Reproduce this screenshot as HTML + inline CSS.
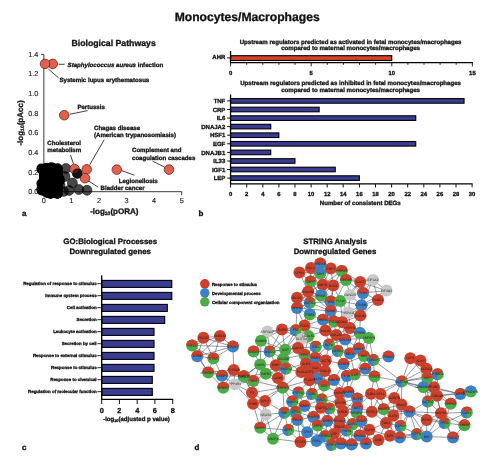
<!DOCTYPE html>
<html><head><meta charset="utf-8"><title>Monocytes/Macrophages</title>
<style>
html,body{margin:0;padding:0;background:#fff;}
svg{display:block;font-family:"Liberation Sans",Arial,sans-serif;fill:#111;text-rendering:geometricPrecision;}
text{stroke:#111;stroke-width:0.3px;paint-order:stroke;}
text[font-weight=normal]{stroke:#1a1a1a;stroke-width:0.12px;fill:#1a1a1a}
.nl text{stroke:none;fill:#141414;fill-opacity:0.9}
</style></head><body>
<svg width="496" height="466" viewBox="0 0 496 466">
<rect width="496" height="466" fill="#fff"/>
<text x="247.2" y="21.3" font-size="12.15" text-anchor="middle" font-weight="bold" font-style="normal" >Monocytes/Macrophages</text>
<text x="113.6" y="45.8" font-size="8.72" text-anchor="middle" font-weight="bold" font-style="normal" >Biological Pathways</text>
<path d="M41.050000000000004 54.4H43.85V191.7H181.7v3.4" fill="none" stroke="#3a3a3a" stroke-width="1"/>
<text x="38.4" y="194.1" font-size="7.3" text-anchor="end" font-weight="normal" font-style="normal" >0.0</text>
<text x="38.4" y="174.5" font-size="7.3" text-anchor="end" font-weight="normal" font-style="normal" >0.2</text>
<text x="38.4" y="154.9" font-size="7.3" text-anchor="end" font-weight="normal" font-style="normal" >0.4</text>
<text x="38.4" y="135.2" font-size="7.3" text-anchor="end" font-weight="normal" font-style="normal" >0.6</text>
<text x="38.4" y="115.6" font-size="7.3" text-anchor="end" font-weight="normal" font-style="normal" >0.8</text>
<text x="38.4" y="96.0" font-size="7.3" text-anchor="end" font-weight="normal" font-style="normal" >1.0</text>
<text x="38.4" y="76.4" font-size="7.3" text-anchor="end" font-weight="normal" font-style="normal" >1.2</text>
<text x="38.4" y="56.8" font-size="7.3" text-anchor="end" font-weight="normal" font-style="normal" >1.4</text>
<text x="43.9" y="202.8" font-size="7.3" text-anchor="middle" font-weight="normal" font-style="normal" >0</text>
<text x="71.4" y="202.8" font-size="7.3" text-anchor="middle" font-weight="normal" font-style="normal" >1</text>
<text x="99.0" y="202.8" font-size="7.3" text-anchor="middle" font-weight="normal" font-style="normal" >2</text>
<text x="126.6" y="202.8" font-size="7.3" text-anchor="middle" font-weight="normal" font-style="normal" >3</text>
<text x="154.1" y="202.8" font-size="7.3" text-anchor="middle" font-weight="normal" font-style="normal" >4</text>
<text x="181.7" y="202.8" font-size="7.3" text-anchor="middle" font-weight="normal" font-style="normal" >5</text>
<text x="114.3" y="213.6" font-size="8" text-anchor="middle" font-weight="bold">-log<tspan font-size="5" dy="1.5">10</tspan><tspan dy="-1.5">(pORA)</tspan></text>
<text transform="translate(22.5,123) rotate(-90)" font-size="8" text-anchor="middle" font-weight="bold">-log<tspan font-size="5" dy="1.5">10</tspan><tspan dy="-1.5">(pAcc)</tspan></text>
<g fill="#000">
<rect x="39" y="165" width="24" height="31" rx="5"/>
<circle cx="45.5" cy="181.7" r="5"/>
<circle cx="48.0" cy="183.3" r="5"/>
<circle cx="52.9" cy="168.8" r="5"/>
<circle cx="41.3" cy="189.6" r="5"/>
<circle cx="45.9" cy="173.3" r="5"/>
<circle cx="59.9" cy="179.7" r="5"/>
<circle cx="56.9" cy="179.9" r="5"/>
<circle cx="53.1" cy="171.1" r="5"/>
<circle cx="53.1" cy="190.4" r="5"/>
<circle cx="50.9" cy="187.0" r="5"/>
<circle cx="53.8" cy="168.7" r="5"/>
<circle cx="55.4" cy="183.0" r="5"/>
<circle cx="46.7" cy="167.8" r="5"/>
<circle cx="57.4" cy="179.8" r="5"/>
<circle cx="54.7" cy="190.7" r="5"/>
<circle cx="54.6" cy="191.9" r="5"/>
<circle cx="48.5" cy="188.6" r="5"/>
<circle cx="49.4" cy="192.3" r="5"/>
<circle cx="57.7" cy="169.6" r="5"/>
<circle cx="43.6" cy="172.9" r="5"/>
<circle cx="59.3" cy="178.8" r="5"/>
<circle cx="52.9" cy="175.1" r="5"/>
<circle cx="50.6" cy="177.4" r="5"/>
<circle cx="47.7" cy="182.8" r="5"/>
<circle cx="52.1" cy="191.4" r="5"/>
<circle cx="54.0" cy="192.1" r="5"/>
<circle cx="57.3" cy="193.8" r="5"/>
<circle cx="53.8" cy="171.4" r="5"/>
<circle cx="57.4" cy="193.0" r="5"/>
<circle cx="58.2" cy="182.4" r="5"/>
<circle cx="54.6" cy="172.7" r="5"/>
<circle cx="56.8" cy="182.5" r="5"/>
<circle cx="46.4" cy="168.7" r="5"/>
<circle cx="57.2" cy="193.7" r="5"/>
<circle cx="42.7" cy="188.6" r="5"/>
<circle cx="48.8" cy="171.1" r="5"/>
<circle cx="46.6" cy="187.8" r="5"/>
<circle cx="57.6" cy="168.2" r="5"/>
<circle cx="52.7" cy="168.2" r="5"/>
<circle cx="54.7" cy="175.9" r="5"/>
<circle cx="57.7" cy="193.5" r="5"/>
<circle cx="50.6" cy="194.0" r="5"/>
<circle cx="46.9" cy="169.1" r="5"/>
<circle cx="52.4" cy="167.8" r="5"/>
<circle cx="44.8" cy="178.0" r="5"/>
<circle cx="52.6" cy="171.2" r="5"/>
<circle cx="41.8" cy="190.4" r="5"/>
<circle cx="47.0" cy="192.9" r="5"/>
<circle cx="58.0" cy="177.2" r="5"/>
<circle cx="49.7" cy="181.0" r="5"/>
<circle cx="53.2" cy="183.1" r="5"/>
<circle cx="51.6" cy="183.7" r="5"/>
<circle cx="58.9" cy="180.7" r="5"/>
<circle cx="49.2" cy="186.4" r="5"/>
<circle cx="45.5" cy="175.1" r="5"/>
<circle cx="59.6" cy="181.1" r="5"/>
<circle cx="51.4" cy="167.3" r="5"/>
<circle cx="48.9" cy="182.7" r="5"/>
<circle cx="41.4" cy="183.6" r="5"/>
<circle cx="53.0" cy="168.6" r="5"/>
<circle cx="52.9" cy="179.6" r="5"/>
<circle cx="53.9" cy="176.5" r="5"/>
<circle cx="54.4" cy="186.9" r="5"/>
<circle cx="41.4" cy="168.6" r="5"/>
<circle cx="53.8" cy="193.0" r="5"/>
<circle cx="45.8" cy="179.3" r="5"/>
<circle cx="52.3" cy="175.6" r="5"/>
<circle cx="47.9" cy="175.4" r="5"/>
<circle cx="48.0" cy="183.1" r="5"/>
<circle cx="46.7" cy="177.2" r="5"/>
</g>
<g fill="#000" fill-opacity="0.72" stroke="#000" stroke-width="0.5">
<circle cx="66" cy="168.5" r="5"/>
<circle cx="65" cy="176.5" r="5"/>
<circle cx="63.5" cy="191.5" r="5"/>
<circle cx="77.3" cy="173.4" r="5"/>
<circle cx="72.4" cy="183" r="5"/>
<circle cx="78.9" cy="189.5" r="5"/>
<circle cx="87" cy="190.3" r="5"/>
<circle cx="69" cy="190.5" r="5"/>
<circle cx="60" cy="185" r="5"/>
</g>
<g fill="#e0624e" stroke="#5e140d" stroke-width="0.7">
<circle cx="52.7" cy="63.9" r="4.8"/>
<circle cx="45" cy="63.9" r="4.8"/>
<circle cx="64.2" cy="115.2" r="4.8"/>
<circle cx="74.5" cy="169" r="4.8"/>
<circle cx="86.7" cy="169.4" r="4.8"/>
<circle cx="85" cy="178.2" r="4.8"/>
<circle cx="116.8" cy="169.6" r="4.8"/>
<circle cx="169" cy="169.6" r="4.8"/>
</g>
<circle cx="77.3" cy="173.4" r="5" fill="#000" fill-opacity="0.72"/>
<g stroke="#111" stroke-width="0.8" fill="none">
<path d="M58.7 64.3L64.6 64.3"/>
<path d="M48.3 69L58.5 77.8"/>
<path d="M69.8 114.3L87.6 110.6"/>
<path d="M104.3 139.6L89.7 164.8"/>
<path d="M70.5 155L73.5 164"/>
<path d="M121.6 170.6L134.5 175.2"/>
<path d="M152.6 161.2L164.7 167.2"/>
<path d="M88.6 181L98.2 187.2"/>
</g>
<text x="67.6" y="66.5" font-size="6.1" font-weight="bold"><tspan font-style="italic">Staphylococcus aureus</tspan> infection</text>
<text x="59.5" y="82.0" font-size="6.1" text-anchor="start" font-weight="bold" font-style="normal" >Systemic lupus erythematosus</text>
<text x="77.4" y="108.8" font-size="6.1" text-anchor="start" font-weight="bold" font-style="normal" >Pertussis</text>
<text x="94.0" y="129.8" font-size="6.1" text-anchor="start" font-weight="bold" font-style="normal" >Chagas disease</text>
<text x="94.0" y="137.0" font-size="6.1" text-anchor="start" font-weight="bold" font-style="normal" >(American trypanosomiasis)</text>
<text x="47.3" y="145.0" font-size="6.1" text-anchor="start" font-weight="bold" font-style="normal" >Cholesterol</text>
<text x="47.3" y="151.9" font-size="6.1" text-anchor="start" font-weight="bold" font-style="normal" >metabolism</text>
<text x="132.0" y="152.3" font-size="6.1" text-anchor="start" font-weight="bold" font-style="normal" >Complement and</text>
<text x="132.0" y="159.5" font-size="6.1" text-anchor="start" font-weight="bold" font-style="normal" >coagulation cascades</text>
<text x="118.7" y="182.5" font-size="6.1" text-anchor="start" font-weight="bold" font-style="normal" >Legionellosis</text>
<text x="100.6" y="189.8" font-size="6.1" text-anchor="start" font-weight="bold" font-style="normal" >Bladder cancer</text>
<text x="21.9" y="215.9" font-size="8.0" text-anchor="start" font-weight="bold" font-style="normal" >a</text>
<text x="350.6" y="43.5" font-size="6.1" text-anchor="middle" font-weight="bold" font-style="normal" >Upstream regulators predicted as activated in fetal monocytes/macrophages</text>
<text x="350.6" y="50.4" font-size="6.1" text-anchor="middle" font-weight="bold" font-style="normal" >compared to maternal monocytes/macrophages</text>
<rect x="230.55" y="55.7" width="161.2" height="4.8" fill="#d4442b" stroke="#000" stroke-width="1.1"/>
<path d="M230.55 51V62.7H472.9" fill="none" stroke="#000" stroke-width="1.3"/>
<path d="M227.15 57.9H230.55" stroke="#111" stroke-width="1"/>
<path d="M230.6 62.7v3.7" stroke="#111" stroke-width="0.9"/>
<path d="M246.7 62.7v2.1" stroke="#111" stroke-width="0.9"/>
<path d="M262.8 62.7v2.1" stroke="#111" stroke-width="0.9"/>
<path d="M278.9 62.7v2.1" stroke="#111" stroke-width="0.9"/>
<path d="M295.0 62.7v2.1" stroke="#111" stroke-width="0.9"/>
<path d="M311.2 62.7v3.7" stroke="#111" stroke-width="0.9"/>
<path d="M327.3 62.7v2.1" stroke="#111" stroke-width="0.9"/>
<path d="M343.4 62.7v2.1" stroke="#111" stroke-width="0.9"/>
<path d="M359.5 62.7v2.1" stroke="#111" stroke-width="0.9"/>
<path d="M375.6 62.7v2.1" stroke="#111" stroke-width="0.9"/>
<path d="M391.8 62.7v3.7" stroke="#111" stroke-width="0.9"/>
<path d="M407.9 62.7v2.1" stroke="#111" stroke-width="0.9"/>
<path d="M424.0 62.7v2.1" stroke="#111" stroke-width="0.9"/>
<path d="M440.1 62.7v2.1" stroke="#111" stroke-width="0.9"/>
<path d="M456.2 62.7v2.1" stroke="#111" stroke-width="0.9"/>
<path d="M472.4 62.7v3.7" stroke="#111" stroke-width="0.9"/>
<text x="230.6" y="74.7" font-size="5.9" text-anchor="middle" font-weight="bold" font-style="normal" >0</text>
<text x="311.2" y="74.7" font-size="5.9" text-anchor="middle" font-weight="bold" font-style="normal" >5</text>
<text x="391.8" y="74.7" font-size="5.9" text-anchor="middle" font-weight="bold" font-style="normal" >10</text>
<text x="472.4" y="74.7" font-size="5.9" text-anchor="middle" font-weight="bold" font-style="normal" >15</text>
<text x="225.3" y="59.2" font-size="6" text-anchor="end" font-weight="bold" font-style="normal" >AHR</text>
<text x="350.6" y="85.0" font-size="6.1" text-anchor="middle" font-weight="bold" font-style="normal" >Upstream regulators predicted as inhibited in fetal monocytes/macrophages</text>
<text x="350.6" y="92.0" font-size="6.1" text-anchor="middle" font-weight="bold" font-style="normal" >compared to maternal monocytes/macrophages</text>
<rect x="230.55" y="98.6" width="233.5" height="4.6" fill="#3a3c92" stroke="#000" stroke-width="1.1"/>
<path d="M227.15 100.9H230.55" stroke="#111" stroke-width="1"/>
<text x="225.3" y="103.0" font-size="6" text-anchor="end" font-weight="bold" font-style="normal" >TNF</text>
<rect x="230.55" y="107.2" width="88.6" height="4.6" fill="#3a3c92" stroke="#000" stroke-width="1.1"/>
<path d="M227.15 109.5H230.55" stroke="#111" stroke-width="1"/>
<text x="225.3" y="111.6" font-size="6" text-anchor="end" font-weight="bold" font-style="normal" >CRP</text>
<rect x="230.55" y="115.8" width="185.2" height="4.6" fill="#3a3c92" stroke="#000" stroke-width="1.1"/>
<path d="M227.15 118.1H230.55" stroke="#111" stroke-width="1"/>
<text x="225.3" y="120.2" font-size="6" text-anchor="end" font-weight="bold" font-style="normal" >IL6</text>
<rect x="230.55" y="124.3" width="40.2" height="4.6" fill="#3a3c92" stroke="#000" stroke-width="1.1"/>
<path d="M227.15 126.6H230.55" stroke="#111" stroke-width="1"/>
<text x="225.3" y="128.7" font-size="6" text-anchor="end" font-weight="bold" font-style="normal" >DNAJA2</text>
<rect x="230.55" y="132.9" width="48.3" height="4.6" fill="#3a3c92" stroke="#000" stroke-width="1.1"/>
<path d="M227.15 135.2H230.55" stroke="#111" stroke-width="1"/>
<text x="225.3" y="137.3" font-size="6" text-anchor="end" font-weight="bold" font-style="normal" >HSF1</text>
<rect x="230.55" y="141.5" width="185.2" height="4.6" fill="#3a3c92" stroke="#000" stroke-width="1.1"/>
<path d="M227.15 143.8H230.55" stroke="#111" stroke-width="1"/>
<text x="225.3" y="145.9" font-size="6" text-anchor="end" font-weight="bold" font-style="normal" >EGF</text>
<rect x="230.55" y="150.1" width="40.2" height="4.6" fill="#3a3c92" stroke="#000" stroke-width="1.1"/>
<path d="M227.15 152.4H230.55" stroke="#111" stroke-width="1"/>
<text x="225.3" y="154.5" font-size="6" text-anchor="end" font-weight="bold" font-style="normal" >DNAJB1</text>
<rect x="230.55" y="158.7" width="64.4" height="4.6" fill="#3a3c92" stroke="#000" stroke-width="1.1"/>
<path d="M227.15 161.0H230.55" stroke="#111" stroke-width="1"/>
<text x="225.3" y="163.1" font-size="6" text-anchor="end" font-weight="bold" font-style="normal" >IL33</text>
<rect x="230.55" y="167.2" width="104.7" height="4.6" fill="#3a3c92" stroke="#000" stroke-width="1.1"/>
<path d="M227.15 169.5H230.55" stroke="#111" stroke-width="1"/>
<text x="225.3" y="171.6" font-size="6" text-anchor="end" font-weight="bold" font-style="normal" >IGF1</text>
<rect x="230.55" y="175.8" width="128.8" height="4.6" fill="#3a3c92" stroke="#000" stroke-width="1.1"/>
<path d="M227.15 178.1H230.55" stroke="#111" stroke-width="1"/>
<text x="225.3" y="180.2" font-size="6" text-anchor="end" font-weight="bold" font-style="normal" >LEP</text>
<path d="M230.55 94.6V183.9H472.6" fill="none" stroke="#000" stroke-width="1.3"/>
<path d="M230.6 183.9v3.6" stroke="#111" stroke-width="1"/>
<text x="230.6" y="195.8" font-size="5.9" text-anchor="middle" font-weight="bold" font-style="normal" >0</text>
<path d="M246.7 183.9v3.6" stroke="#111" stroke-width="1"/>
<text x="246.7" y="195.8" font-size="5.9" text-anchor="middle" font-weight="bold" font-style="normal" >2</text>
<path d="M262.8 183.9v3.6" stroke="#111" stroke-width="1"/>
<text x="262.8" y="195.8" font-size="5.9" text-anchor="middle" font-weight="bold" font-style="normal" >4</text>
<path d="M278.9 183.9v3.6" stroke="#111" stroke-width="1"/>
<text x="278.9" y="195.8" font-size="5.9" text-anchor="middle" font-weight="bold" font-style="normal" >6</text>
<path d="M295.0 183.9v3.6" stroke="#111" stroke-width="1"/>
<text x="295.0" y="195.8" font-size="5.9" text-anchor="middle" font-weight="bold" font-style="normal" >8</text>
<path d="M311.1 183.9v3.6" stroke="#111" stroke-width="1"/>
<text x="311.1" y="195.8" font-size="5.9" text-anchor="middle" font-weight="bold" font-style="normal" >10</text>
<path d="M327.2 183.9v3.6" stroke="#111" stroke-width="1"/>
<text x="327.2" y="195.8" font-size="5.9" text-anchor="middle" font-weight="bold" font-style="normal" >12</text>
<path d="M343.2 183.9v3.6" stroke="#111" stroke-width="1"/>
<text x="343.2" y="195.8" font-size="5.9" text-anchor="middle" font-weight="bold" font-style="normal" >14</text>
<path d="M359.4 183.9v3.6" stroke="#111" stroke-width="1"/>
<text x="359.4" y="195.8" font-size="5.9" text-anchor="middle" font-weight="bold" font-style="normal" >16</text>
<path d="M375.5 183.9v3.6" stroke="#111" stroke-width="1"/>
<text x="375.5" y="195.8" font-size="5.9" text-anchor="middle" font-weight="bold" font-style="normal" >18</text>
<path d="M391.6 183.9v3.6" stroke="#111" stroke-width="1"/>
<text x="391.6" y="195.8" font-size="5.9" text-anchor="middle" font-weight="bold" font-style="normal" >20</text>
<path d="M407.7 183.9v3.6" stroke="#111" stroke-width="1"/>
<text x="407.7" y="195.8" font-size="5.9" text-anchor="middle" font-weight="bold" font-style="normal" >22</text>
<path d="M423.8 183.9v3.6" stroke="#111" stroke-width="1"/>
<text x="423.8" y="195.8" font-size="5.9" text-anchor="middle" font-weight="bold" font-style="normal" >24</text>
<path d="M439.9 183.9v3.6" stroke="#111" stroke-width="1"/>
<text x="439.9" y="195.8" font-size="5.9" text-anchor="middle" font-weight="bold" font-style="normal" >26</text>
<path d="M456.0 183.9v3.6" stroke="#111" stroke-width="1"/>
<text x="456.0" y="195.8" font-size="5.9" text-anchor="middle" font-weight="bold" font-style="normal" >28</text>
<path d="M472.1 183.9v3.6" stroke="#111" stroke-width="1"/>
<text x="472.1" y="195.8" font-size="5.9" text-anchor="middle" font-weight="bold" font-style="normal" >30</text>
<text x="360.3" y="204.6" font-size="6.1" text-anchor="middle" font-weight="bold" font-style="normal" >Number of consistent DEGs</text>
<text x="198.4" y="215.9" font-size="8.0" text-anchor="start" font-weight="bold" font-style="normal" >b</text>
<text x="110.2" y="243.8" font-size="7.85" text-anchor="middle" font-weight="bold" font-style="normal" >GO:Biological Processes</text>
<text x="110.2" y="253.9" font-size="7.85" text-anchor="middle" font-weight="bold" font-style="normal" >Downregulated genes</text>
<rect x="101.7" y="280.4" width="70.1" height="7" fill="#3a3c92" stroke="#000" stroke-width="1.1"/>
<path d="M97.3 283.7H101.7" stroke="#111" stroke-width="0.9"/>
<text x="96.6" y="285.3" font-size="4.4" text-anchor="end" font-weight="bold" font-style="normal" >Regulation of response to stimulus</text>
<rect x="101.7" y="292.4" width="70.1" height="7" fill="#3a3c92" stroke="#000" stroke-width="1.1"/>
<path d="M97.3 295.7H101.7" stroke="#111" stroke-width="0.9"/>
<text x="96.6" y="297.3" font-size="4.4" text-anchor="end" font-weight="bold" font-style="normal" >Immune system process</text>
<rect x="101.7" y="304.4" width="65.6" height="7" fill="#3a3c92" stroke="#000" stroke-width="1.1"/>
<path d="M97.3 307.7H101.7" stroke="#111" stroke-width="0.9"/>
<text x="96.6" y="309.3" font-size="4.4" text-anchor="end" font-weight="bold" font-style="normal" >Cell activation</text>
<rect x="101.7" y="316.4" width="63.0" height="7" fill="#3a3c92" stroke="#000" stroke-width="1.1"/>
<path d="M97.3 319.7H101.7" stroke="#111" stroke-width="0.9"/>
<text x="96.6" y="321.3" font-size="4.4" text-anchor="end" font-weight="bold" font-style="normal" >Secretion</text>
<rect x="101.7" y="328.4" width="52.3" height="7" fill="#3a3c92" stroke="#000" stroke-width="1.1"/>
<path d="M97.3 331.7H101.7" stroke="#111" stroke-width="0.9"/>
<text x="96.6" y="333.3" font-size="4.4" text-anchor="end" font-weight="bold" font-style="normal" >Leukocyte activation</text>
<rect x="101.7" y="340.4" width="52.3" height="7" fill="#3a3c92" stroke="#000" stroke-width="1.1"/>
<path d="M97.3 343.7H101.7" stroke="#111" stroke-width="0.9"/>
<text x="96.6" y="345.3" font-size="4.4" text-anchor="end" font-weight="bold" font-style="normal" >Secretion by cell</text>
<rect x="101.7" y="352.4" width="52.3" height="7" fill="#3a3c92" stroke="#000" stroke-width="1.1"/>
<path d="M97.3 355.7H101.7" stroke="#111" stroke-width="0.9"/>
<text x="96.6" y="357.3" font-size="4.4" text-anchor="end" font-weight="bold" font-style="normal" >Response to external stimulus</text>
<rect x="101.7" y="364.4" width="52.3" height="7" fill="#3a3c92" stroke="#000" stroke-width="1.1"/>
<path d="M97.3 367.7H101.7" stroke="#111" stroke-width="0.9"/>
<text x="96.6" y="369.3" font-size="4.4" text-anchor="end" font-weight="bold" font-style="normal" >Response to stimulus</text>
<rect x="101.7" y="376.4" width="50.6" height="7" fill="#3a3c92" stroke="#000" stroke-width="1.1"/>
<path d="M97.3 379.7H101.7" stroke="#111" stroke-width="0.9"/>
<text x="96.6" y="381.3" font-size="4.4" text-anchor="end" font-weight="bold" font-style="normal" >Response to chemical</text>
<rect x="101.7" y="388.4" width="50.6" height="7" fill="#3a3c92" stroke="#000" stroke-width="1.1"/>
<path d="M97.3 391.7H101.7" stroke="#111" stroke-width="0.9"/>
<text x="96.6" y="393.3" font-size="4.4" text-anchor="end" font-weight="bold" font-style="normal" >Regulation of molecular function</text>
<path d="M101.7 275.2V399.4H173.2" fill="none" stroke="#000" stroke-width="1.3"/>
<path d="M101.7 399.4v4.6" stroke="#111" stroke-width="1"/>
<path d="M119.4 399.4v4.6" stroke="#111" stroke-width="1"/>
<path d="M137.2 399.4v4.6" stroke="#111" stroke-width="1"/>
<path d="M154.9 399.4v4.6" stroke="#111" stroke-width="1"/>
<path d="M172.7 399.4v4.6" stroke="#111" stroke-width="1"/>
<text x="101.7" y="412.9" font-size="7.3" text-anchor="middle" font-weight="bold" font-style="normal" >0</text>
<text x="119.4" y="412.9" font-size="7.3" text-anchor="middle" font-weight="bold" font-style="normal" >2</text>
<text x="137.2" y="412.9" font-size="7.3" text-anchor="middle" font-weight="bold" font-style="normal" >4</text>
<text x="154.9" y="412.9" font-size="7.3" text-anchor="middle" font-weight="bold" font-style="normal" >6</text>
<text x="172.7" y="412.9" font-size="7.3" text-anchor="middle" font-weight="bold" font-style="normal" >8</text>
<text x="136.5" y="420.6" font-size="6.05" text-anchor="middle" font-weight="bold">-log<tspan font-size="3.8" dy="1">10</tspan><tspan dy="-1">(adjusted p value)</tspan></text>
<text x="21.9" y="450.0" font-size="8.0" text-anchor="start" font-weight="bold" font-style="normal" >c</text>
<text x="194.5" y="450.0" font-size="8.0" text-anchor="start" font-weight="bold" font-style="normal" >d</text>
<text x="335.0" y="244.3" font-size="7.83" text-anchor="middle" font-weight="bold" font-style="normal" >STRING Analysis</text>
<text x="335.0" y="253.8" font-size="7.83" text-anchor="middle" font-weight="bold" font-style="normal" >Downregulated Genes</text>
<circle cx="204.8" cy="283.8" r="4.75" fill="#cb412c"/>
<text x="211.9" y="285.7" font-size="4.35" text-anchor="start" font-weight="bold" font-style="normal" >Response to stimulus</text>
<circle cx="204.8" cy="292.8" r="4.75" fill="#3d80c4"/>
<text x="211.9" y="294.7" font-size="4.35" text-anchor="start" font-weight="bold" font-style="normal" >Developmental process</text>
<circle cx="204.8" cy="301.8" r="4.75" fill="#4bab48"/>
<text x="211.9" y="303.7" font-size="4.35" text-anchor="start" font-weight="bold" font-style="normal" >Cellular component organization</text>
<g stroke="#2c3450" stroke-width="0.55" stroke-opacity="0.9">
<path d="M299.4 272.4L311 268"/>
<path d="M299.4 272.4L320.3 263.5"/>
<path d="M299.4 272.4L320.3 273.5"/>
<path d="M299.4 272.4L310.6 281.5"/>
<path d="M299.4 272.4L308.2 291.5"/>
<path d="M311 268L330.8 268.5"/>
<path d="M311 268L310.6 281.5"/>
<path d="M311 268L322.7 284.8"/>
<path d="M311 268L308.2 291.5"/>
<path d="M320.3 263.5L330.8 268.5"/>
<path d="M320.3 263.5L341.8 271"/>
<path d="M320.3 263.5L310.6 281.5"/>
<path d="M320.3 263.5L322.7 284.8"/>
<path d="M320.3 273.5L330.8 268.5"/>
<path d="M320.3 273.5L341.8 271"/>
<path d="M320.3 273.5L310.6 281.5"/>
<path d="M320.3 273.5L322.7 284.8"/>
<path d="M320.3 273.5L333.2 285.6"/>
<path d="M330.8 268.5L346 280"/>
<path d="M330.8 268.5L322.7 284.8"/>
<path d="M330.8 268.5L333.2 285.6"/>
<path d="M341.8 271L322.7 284.8"/>
<path d="M341.8 271L333.2 285.6"/>
<path d="M341.8 271L360.2 282"/>
<path d="M346 280L333.2 285.6"/>
<path d="M346 280L350 295"/>
<path d="M346 280L360.2 282"/>
<path d="M346 280L373 280"/>
<path d="M346 280L363 293"/>
<path d="M346 280L330.7 311"/>
<path d="M310.6 281.5L322.7 284.8"/>
<path d="M310.6 281.5L297 297.7"/>
<path d="M310.6 281.5L321 295.5"/>
<path d="M310.6 281.5L330.7 311"/>
<path d="M322.7 284.8L308.2 291.5"/>
<path d="M322.7 284.8L330.8 301.5"/>
<path d="M322.7 284.8L330.7 311"/>
<path d="M333.2 285.6L321 295.5"/>
<path d="M333.2 285.6L330.8 301.5"/>
<path d="M333.2 285.6L340.5 301"/>
<path d="M333.2 285.6L330.7 311"/>
<path d="M308.2 291.5L297 297.7"/>
<path d="M308.2 291.5L321 295.5"/>
<path d="M308.2 291.5L297 308"/>
<path d="M308.2 291.5L330.7 311"/>
<path d="M297 297.7L321 295.5"/>
<path d="M297 297.7L309.8 302.8"/>
<path d="M297 297.7L309.8 314.5"/>
<path d="M321 295.5L309.8 302.8"/>
<path d="M321 295.5L340.5 301"/>
<path d="M321 295.5L330.7 311"/>
<path d="M309.8 302.8L297 308"/>
<path d="M309.8 302.8L330.8 301.5"/>
<path d="M309.8 302.8L330.7 311"/>
<path d="M309.8 302.8L309.8 314.5"/>
<path d="M297 308L330.7 311"/>
<path d="M297 308L309.8 314.5"/>
<path d="M297 308L304.5 325.5"/>
<path d="M297 308L295.8 330.3"/>
<path d="M330.8 301.5L350 295"/>
<path d="M330.8 301.5L323 319.7"/>
<path d="M330.8 301.5L334 321.5"/>
<path d="M340.5 301L361.5 305.2"/>
<path d="M340.5 301L348.5 312.4"/>
<path d="M340.5 301L330.7 311"/>
<path d="M340.5 301L342.3 322.2"/>
<path d="M350 295L360.2 282"/>
<path d="M350 295L363 293"/>
<path d="M350 295L361.5 305.2"/>
<path d="M350 295L348.5 312.4"/>
<path d="M350 295L330.7 311"/>
<path d="M360.2 282L373 280"/>
<path d="M360.2 282L386.5 290.6"/>
<path d="M360.2 282L361.5 305.2"/>
<path d="M360.2 282L330.7 311"/>
<path d="M373 280L386.5 290.6"/>
<path d="M373 280L363 293"/>
<path d="M373 280L378 300"/>
<path d="M373 280L361.5 305.2"/>
<path d="M386.5 290.6L363 293"/>
<path d="M386.5 290.6L378 300"/>
<path d="M386.5 290.6L361.5 305.2"/>
<path d="M363 293L378 300"/>
<path d="M363 293L361.5 305.2"/>
<path d="M363 293L360.3 315.5"/>
<path d="M378 300L361.5 305.2"/>
<path d="M378 300L360.3 315.5"/>
<path d="M361.5 305.2L348.5 312.4"/>
<path d="M361.5 305.2L342.3 322.2"/>
<path d="M348.5 312.4L360.3 315.5"/>
<path d="M348.5 312.4L330.7 311"/>
<path d="M348.5 312.4L334 321.5"/>
<path d="M348.5 312.4L342.3 322.2"/>
<path d="M348.5 312.4L350 328"/>
<path d="M360.3 315.5L342.3 322.2"/>
<path d="M360.3 315.5L350 328"/>
<path d="M360.3 315.5L359.8 333"/>
<path d="M330.7 311L323 319.7"/>
<path d="M330.7 311L342.3 322.2"/>
<path d="M309.8 314.5L323 319.7"/>
<path d="M309.8 314.5L304.5 325.5"/>
<path d="M309.8 314.5L295.8 330.3"/>
<path d="M323 319.7L342.3 322.2"/>
<path d="M323 319.7L304.5 325.5"/>
<path d="M334 321.5L350 328"/>
<path d="M334 321.5L325.5 330.5"/>
<path d="M334 321.5L336.2 335"/>
<path d="M342.3 322.2L325.5 330.5"/>
<path d="M342.3 322.2L336.2 335"/>
<path d="M342.3 322.2L345.2 339.5"/>
<path d="M342.3 322.2L359.8 333"/>
<path d="M350 328L336.2 335"/>
<path d="M350 328L345.2 339.5"/>
<path d="M350 328L369 338"/>
<path d="M304.5 325.5L282 329.5"/>
<path d="M304.5 325.5L325.5 330.5"/>
<path d="M304.5 325.5L301.5 339"/>
<path d="M304.5 325.5L285.2 349.8"/>
<path d="M295.8 330.3L282 329.5"/>
<path d="M295.8 330.3L308.5 336"/>
<path d="M295.8 330.3L267.4 331.6"/>
<path d="M295.8 330.3L269.8 351.5"/>
<path d="M295.8 330.3L285.2 349.8"/>
<path d="M295.8 330.3L298 348"/>
<path d="M282 329.5L301.5 339"/>
<path d="M282 329.5L267.4 331.6"/>
<path d="M282 329.5L261 340.8"/>
<path d="M282 329.5L269.8 351.5"/>
<path d="M282 329.5L285.2 349.8"/>
<path d="M325.5 330.5L336.2 335"/>
<path d="M325.5 330.5L308.5 336"/>
<path d="M325.5 330.5L329 344.5"/>
<path d="M336.2 335L329 344.5"/>
<path d="M336.2 335L337.9 351"/>
<path d="M345.2 339.5L359.8 333"/>
<path d="M345.2 339.5L369 338"/>
<path d="M345.2 339.5L329 344.5"/>
<path d="M345.2 339.5L337.9 351"/>
<path d="M345.2 339.5L350 353.4"/>
<path d="M345.2 339.5L358.9 348.5"/>
<path d="M359.8 333L369 338"/>
<path d="M359.8 333L350 353.4"/>
<path d="M359.8 333L358.9 348.5"/>
<path d="M369 338L358.9 348.5"/>
<path d="M369 338L363.9 356"/>
<path d="M369 338L373.4 360"/>
<path d="M308.5 336L298 348"/>
<path d="M308.5 336L304.5 354.8"/>
<path d="M308.5 336L315.8 346.8"/>
<path d="M301.5 339L285.2 349.8"/>
<path d="M301.5 339L304.5 354.8"/>
<path d="M301.5 339L315.8 346.8"/>
<path d="M267.4 331.6L253.6 351.5"/>
<path d="M267.4 331.6L269.8 351.5"/>
<path d="M267.4 331.6L285.2 349.8"/>
<path d="M261 340.8L253.6 351.5"/>
<path d="M261 340.8L269.8 351.5"/>
<path d="M261 340.8L285.2 349.8"/>
<path d="M261 340.8L260.2 364.4"/>
<path d="M253.6 351.5L269.8 351.5"/>
<path d="M253.6 351.5L260.2 364.4"/>
<path d="M269.8 351.5L285.2 349.8"/>
<path d="M269.8 351.5L283.2 358.7"/>
<path d="M269.8 351.5L260.2 364.4"/>
<path d="M269.8 351.5L275.8 365.2"/>
<path d="M269.8 351.5L298 348"/>
<path d="M285.2 349.8L275.8 365.2"/>
<path d="M285.2 349.8L286 368.8"/>
<path d="M285.2 349.8L298 348"/>
<path d="M283.2 358.7L277.9 378"/>
<path d="M283.2 358.7L298 348"/>
<path d="M283.2 358.7L304.5 354.8"/>
<path d="M283.2 358.7L301.3 372"/>
<path d="M260.2 364.4L275.8 365.2"/>
<path d="M260.2 364.4L277.9 378"/>
<path d="M260.2 364.4L244 376.5"/>
<path d="M260.2 364.4L253.4 381"/>
<path d="M260.2 364.4L243.7 376.3"/>
<path d="M275.8 365.2L265.8 373.8"/>
<path d="M275.8 365.2L277.9 378"/>
<path d="M286 368.8L265.8 373.8"/>
<path d="M286 368.8L277.9 378"/>
<path d="M286 368.8L306 363.5"/>
<path d="M286 368.8L301.3 372"/>
<path d="M286 368.8L282.7 387.7"/>
<path d="M265.8 373.8L277.9 378"/>
<path d="M265.8 373.8L244 376.5"/>
<path d="M265.8 373.8L253.4 381"/>
<path d="M265.8 373.8L282.7 387.7"/>
<path d="M244 376.5L233.8 370"/>
<path d="M244 376.5L234.8 384.2"/>
<path d="M244 376.5L252 392.7"/>
<path d="M253.4 381L233.8 370"/>
<path d="M253.4 381L234.8 384.2"/>
<path d="M253.4 381L252 392.7"/>
<path d="M253.4 381L253 403.7"/>
<path d="M253.4 381L282.7 387.7"/>
<path d="M298 348L315.8 346.8"/>
<path d="M298 348L306 363.5"/>
<path d="M298 348L315.5 358"/>
<path d="M304.5 354.8L315.8 346.8"/>
<path d="M304.5 354.8L315.6 367.5"/>
<path d="M304.5 354.8L301.3 372"/>
<path d="M304.5 354.8L309.4 372"/>
<path d="M315.8 346.8L306 363.5"/>
<path d="M315.8 346.8L329 344.5"/>
<path d="M315.8 346.8L325.8 360.5"/>
<path d="M306 363.5L317.7 378.4"/>
<path d="M306 363.5L309.4 380.3"/>
<path d="M306 363.5L325.8 360.5"/>
<path d="M315.5 358L301.3 372"/>
<path d="M315.5 358L309.4 372"/>
<path d="M315.5 358L329 344.5"/>
<path d="M315.5 358L325 371"/>
<path d="M315.6 367.5L301.3 372"/>
<path d="M315.6 367.5L309.4 380.3"/>
<path d="M315.6 367.5L325.8 360.5"/>
<path d="M315.6 367.5L324.2 385.6"/>
<path d="M301.3 372L317.7 378.4"/>
<path d="M301.3 372L309.4 380.3"/>
<path d="M301.3 372L282.7 387.7"/>
<path d="M309.4 372L325.8 360.5"/>
<path d="M309.4 372L325 371"/>
<path d="M309.4 372L324.2 385.6"/>
<path d="M317.7 378.4L325.8 360.5"/>
<path d="M317.7 378.4L333.9 380"/>
<path d="M317.7 378.4L312 393.9"/>
<path d="M309.4 380.3L325 371"/>
<path d="M309.4 380.3L324.2 385.6"/>
<path d="M309.4 380.3L312 393.9"/>
<path d="M309.4 380.3L298.5 392.5"/>
<path d="M309.4 380.3L282.7 387.7"/>
<path d="M329 344.5L325.8 360.5"/>
<path d="M337.9 351L350 353.4"/>
<path d="M337.9 351L358.9 348.5"/>
<path d="M337.9 351L325.8 360.5"/>
<path d="M337.9 351L343.5 364"/>
<path d="M350 353.4L363.9 356"/>
<path d="M350 353.4L343.5 364"/>
<path d="M350 353.4L354.8 374.4"/>
<path d="M358.9 348.5L373.4 360"/>
<path d="M363.9 356L343.5 364"/>
<path d="M363.9 356L365.3 368.7"/>
<path d="M363.9 356L354.8 374.4"/>
<path d="M373.4 360L365.3 368.7"/>
<path d="M373.4 360L374.5 376.5"/>
<path d="M373.4 360L388.5 356.6"/>
<path d="M373.4 360L401.8 381.6"/>
<path d="M325.8 360.5L343.5 364"/>
<path d="M343.5 364L346.8 376"/>
<path d="M343.5 364L354.8 374.4"/>
<path d="M343.5 364L333.9 380"/>
<path d="M325 371L333.9 380"/>
<path d="M325 371L324.2 385.6"/>
<path d="M365.3 368.7L346.8 376"/>
<path d="M365.3 368.7L354.8 374.4"/>
<path d="M365.3 368.7L374.5 376.5"/>
<path d="M346.8 376L333.9 380"/>
<path d="M346.8 376L339.5 393"/>
<path d="M346.8 376L348.4 392"/>
<path d="M354.8 374.4L374.5 376.5"/>
<path d="M354.8 374.4L348.4 392"/>
<path d="M374.5 376.5L371 393.7"/>
<path d="M374.5 376.5L401.8 381.6"/>
<path d="M374.5 376.5L380.5 393.9"/>
<path d="M333.9 380L339.5 393"/>
<path d="M333.9 380L348.4 392"/>
<path d="M324.2 385.6L312 393.9"/>
<path d="M324.2 385.6L339.5 393"/>
<path d="M324.2 385.6L321.8 399.4"/>
<path d="M312 393.9L298.5 392.5"/>
<path d="M312 393.9L304.6 406"/>
<path d="M312 393.9L321 407.7"/>
<path d="M312 393.9L292.4 401.5"/>
<path d="M312 393.9L295.6 412"/>
<path d="M298.5 392.5L304.6 406"/>
<path d="M298.5 392.5L295.6 412"/>
<path d="M298.5 392.5L282.7 387.7"/>
<path d="M339.5 393L357.3 398.5"/>
<path d="M339.5 393L321.8 399.4"/>
<path d="M339.5 393L329.4 408.5"/>
<path d="M348.4 392L340.3 403"/>
<path d="M348.4 392L357.3 407.4"/>
<path d="M357.3 398.5L371 393.7"/>
<path d="M357.3 398.5L340.3 403"/>
<path d="M357.3 398.5L343 411.4"/>
<path d="M357.3 398.5L356.5 412.6"/>
<path d="M371 393.7L357.3 407.4"/>
<path d="M371 393.7L371.8 411.8"/>
<path d="M371 393.7L401.8 381.6"/>
<path d="M371 393.7L383.7 409.2"/>
<path d="M321.8 399.4L340.3 403"/>
<path d="M321.8 399.4L304.6 406"/>
<path d="M321.8 399.4L329.4 408.5"/>
<path d="M340.3 403L329.4 408.5"/>
<path d="M340.3 403L357.3 407.4"/>
<path d="M340.3 403L356.5 412.6"/>
<path d="M340.3 403L339.5 421"/>
<path d="M304.6 406L321 407.7"/>
<path d="M304.6 406L284.4 412.8"/>
<path d="M304.6 406L292.4 401.5"/>
<path d="M304.6 406L297.3 420"/>
<path d="M304.6 406L313.4 416.9"/>
<path d="M329.4 408.5L343 411.4"/>
<path d="M329.4 408.5L327.4 421"/>
<path d="M329.4 408.5L339.5 421"/>
<path d="M321 407.7L313.4 416.9"/>
<path d="M321 407.7L317.7 425.5"/>
<path d="M321 407.7L327.4 421"/>
<path d="M357.3 407.4L343 411.4"/>
<path d="M357.3 407.4L371.8 411.8"/>
<path d="M357.3 407.4L352.4 424.2"/>
<path d="M357.3 407.4L361.3 421"/>
<path d="M343 411.4L356.5 412.6"/>
<path d="M343 411.4L352.4 424.2"/>
<path d="M343 411.4L339.5 426.6"/>
<path d="M356.5 412.6L371.8 411.8"/>
<path d="M356.5 412.6L352.4 424.2"/>
<path d="M371.8 411.8L361.3 421"/>
<path d="M371.8 411.8L380.5 393.9"/>
<path d="M371.8 411.8L409.5 411.6"/>
<path d="M371.8 411.8L383.7 409.2"/>
<path d="M371.8 411.8L386 423"/>
<path d="M203.4 337.7L220 336.1"/>
<path d="M203.4 337.7L192.1 345.5"/>
<path d="M203.4 337.7L232.9 346.6"/>
<path d="M203.4 337.7L197.3 356.3"/>
<path d="M203.4 337.7L213.4 358.4"/>
<path d="M220 336.1L192.1 345.5"/>
<path d="M220 336.1L232.9 346.6"/>
<path d="M220 336.1L197.3 356.3"/>
<path d="M220 336.1L213.4 358.4"/>
<path d="M192.1 345.5L232.9 346.6"/>
<path d="M192.1 345.5L197.3 356.3"/>
<path d="M192.1 345.5L213.4 358.4"/>
<path d="M192.1 345.5L208.2 372.5"/>
<path d="M232.9 346.6L197.3 356.3"/>
<path d="M232.9 346.6L213.4 358.4"/>
<path d="M232.9 346.6L233.8 370"/>
<path d="M197.3 356.3L213.4 358.4"/>
<path d="M197.3 356.3L208.2 372.5"/>
<path d="M213.4 358.4L208.2 372.5"/>
<path d="M213.4 358.4L222 375.8"/>
<path d="M208.2 372.5L233.8 370"/>
<path d="M208.2 372.5L222 375.8"/>
<path d="M208.2 372.5L223.2 387.7"/>
<path d="M233.8 370L222 375.8"/>
<path d="M233.8 370L243.7 376.3"/>
<path d="M233.8 370L234.8 384.2"/>
<path d="M233.8 370L223.2 387.7"/>
<path d="M222 375.8L243.7 376.3"/>
<path d="M222 375.8L234.8 384.2"/>
<path d="M222 375.8L223.2 387.7"/>
<path d="M243.7 376.3L234.8 384.2"/>
<path d="M243.7 376.3L223.2 387.7"/>
<path d="M243.7 376.3L252 392.7"/>
<path d="M234.8 384.2L223.2 387.7"/>
<path d="M234.8 384.2L252 392.7"/>
<path d="M234.8 384.2L253 403.7"/>
<path d="M252 392.7L265 401"/>
<path d="M252 392.7L282.7 387.7"/>
<path d="M253 403.7L265 401"/>
<path d="M253 403.7L265.8 414.5"/>
<path d="M253 403.7L282.7 387.7"/>
<path d="M253 403.7L260.2 427.8"/>
<path d="M265 401L265.8 414.5"/>
<path d="M265 401L284.4 412.8"/>
<path d="M265 401L282.7 387.7"/>
<path d="M265 401L260.2 427.8"/>
<path d="M265.8 414.5L284.4 412.8"/>
<path d="M265.8 414.5L260.2 427.8"/>
<path d="M265.8 414.5L273 438.7"/>
<path d="M284.4 412.8L292.4 401.5"/>
<path d="M284.4 412.8L282.7 387.7"/>
<path d="M284.4 412.8L297.3 420"/>
<path d="M284.4 412.8L260.2 427.8"/>
<path d="M284.4 412.8L288.4 430"/>
<path d="M284.4 412.8L273 438.7"/>
<path d="M292.4 401.5L282.7 387.7"/>
<path d="M292.4 401.5L297.3 420"/>
<path d="M295.6 412L313.4 416.9"/>
<path d="M295.6 412L288.4 430"/>
<path d="M295.6 412L307.2 432.3"/>
<path d="M297.3 420L313.4 416.9"/>
<path d="M297.3 420L288.4 430"/>
<path d="M297.3 420L307.2 432.3"/>
<path d="M297.3 420L300.5 442"/>
<path d="M313.4 416.9L307.2 432.3"/>
<path d="M313.4 416.9L327.4 421"/>
<path d="M260.2 427.8L288.4 430"/>
<path d="M260.2 427.8L273 438.7"/>
<path d="M288.4 430L273 438.7"/>
<path d="M288.4 430L307.2 432.3"/>
<path d="M288.4 430L300.5 442"/>
<path d="M317.7 425.5L307.2 432.3"/>
<path d="M317.7 425.5L300.5 442"/>
<path d="M317.7 425.5L316.5 441"/>
<path d="M317.7 425.5L333.9 433.9"/>
<path d="M317.7 425.5L325 436.3"/>
<path d="M317.7 425.5L331.5 445"/>
<path d="M273 438.7L300.5 442"/>
<path d="M307.2 432.3L300.5 442"/>
<path d="M307.2 432.3L316.5 441"/>
<path d="M307.2 432.3L325 436.3"/>
<path d="M300.5 442L316.5 441"/>
<path d="M316.5 441L333.9 433.9"/>
<path d="M316.5 441L331.5 445"/>
<path d="M327.4 421L339.5 421"/>
<path d="M327.4 421L339.5 426.6"/>
<path d="M327.4 421L333.9 433.9"/>
<path d="M327.4 421L325 436.3"/>
<path d="M339.5 421L352.4 424.2"/>
<path d="M339.5 421L346.8 430.6"/>
<path d="M339.5 421L333.9 433.9"/>
<path d="M352.4 424.2L339.5 426.6"/>
<path d="M352.4 424.2L369.4 429.8"/>
<path d="M352.4 424.2L359.7 435.5"/>
<path d="M352.4 424.2L351.6 444.4"/>
<path d="M361.3 421L346.8 430.6"/>
<path d="M361.3 421L369.4 429.8"/>
<path d="M361.3 421L359.7 435.5"/>
<path d="M361.3 421L366 443.5"/>
<path d="M339.5 426.6L325 436.3"/>
<path d="M339.5 426.6L331.5 445"/>
<path d="M339.5 426.6L341 443.5"/>
<path d="M346.8 430.6L333.9 433.9"/>
<path d="M346.8 430.6L359.7 435.5"/>
<path d="M346.8 430.6L331.5 445"/>
<path d="M346.8 430.6L341 443.5"/>
<path d="M346.8 430.6L351.6 444.4"/>
<path d="M346.8 430.6L366 443.5"/>
<path d="M369.4 429.8L366 443.5"/>
<path d="M369.4 429.8L378.4 440"/>
<path d="M369.4 429.8L386 423"/>
<path d="M369.4 429.8L390 435.8"/>
<path d="M333.9 433.9L341 443.5"/>
<path d="M325 436.3L341 443.5"/>
<path d="M359.7 435.5L341 443.5"/>
<path d="M359.7 435.5L351.6 444.4"/>
<path d="M359.7 435.5L378.4 440"/>
<path d="M331.5 445L351.6 444.4"/>
<path d="M351.6 444.4L366 443.5"/>
<path d="M366 443.5L378.4 440"/>
<path d="M378.4 440L386 423"/>
<path d="M378.4 440L390 435.8"/>
<path d="M378.4 440L399.8 437.4"/>
<path d="M410.3 358.2L426.5 368.8"/>
<path d="M410.3 358.2L437.7 374.2"/>
<path d="M410.3 358.2L427.3 378"/>
<path d="M410.3 358.2L401.8 381.6"/>
<path d="M420.5 360.4L437.7 374.2"/>
<path d="M420.5 360.4L427.3 378"/>
<path d="M420.5 360.4L401.8 381.6"/>
<path d="M420.5 360.4L423.5 387.3"/>
<path d="M420.5 360.4L434 387.3"/>
<path d="M426.5 368.8L437.7 374.2"/>
<path d="M426.5 368.8L401.8 381.6"/>
<path d="M426.5 368.8L423.5 387.3"/>
<path d="M426.5 368.8L434 387.3"/>
<path d="M437.7 374.2L401.8 381.6"/>
<path d="M437.7 374.2L423.5 387.3"/>
<path d="M437.7 374.2L434 387.3"/>
<path d="M437.7 374.2L437 395.8"/>
<path d="M427.3 378L401.8 381.6"/>
<path d="M427.3 378L437 395.8"/>
<path d="M427.3 378L428 401.5"/>
<path d="M401.8 381.6L423.5 387.3"/>
<path d="M401.8 381.6L437 395.8"/>
<path d="M401.8 381.6L460.4 394"/>
<path d="M401.8 381.6L380.5 393.9"/>
<path d="M401.8 381.6L394.2 397.9"/>
<path d="M401.8 381.6L401.5 404.4"/>
<path d="M423.5 387.3L437 395.8"/>
<path d="M423.5 387.3L428 401.5"/>
<path d="M434 387.3L460.4 394"/>
<path d="M434 387.3L428 401.5"/>
<path d="M434 387.3L450.7 403.8"/>
<path d="M434 387.3L441 413.2"/>
<path d="M437 395.8L460.4 394"/>
<path d="M437 395.8L470.8 391.5"/>
<path d="M437 395.8L450.7 403.8"/>
<path d="M437 395.8L441 413.2"/>
<path d="M460.4 394L441 413.2"/>
<path d="M428 401.5L409.5 411.6"/>
<path d="M428 401.5L441 413.2"/>
<path d="M428 401.5L426.7 420"/>
<path d="M450.7 403.8L441 413.2"/>
<path d="M450.7 403.8L444.6 423"/>
<path d="M380.5 393.9L394.2 397.9"/>
<path d="M380.5 393.9L401.5 404.4"/>
<path d="M380.5 393.9L383.7 409.2"/>
<path d="M394.2 397.9L409.5 411.6"/>
<path d="M394.2 397.9L383.7 409.2"/>
<path d="M394.2 397.9L393.4 415.6"/>
<path d="M401.5 404.4L383.7 409.2"/>
<path d="M401.5 404.4L393.4 415.6"/>
<path d="M401.5 404.4L400.6 426"/>
<path d="M409.5 411.6L441 413.2"/>
<path d="M409.5 411.6L426.7 420"/>
<path d="M409.5 411.6L444.6 423"/>
<path d="M409.5 411.6L383.7 409.2"/>
<path d="M409.5 411.6L393.4 415.6"/>
<path d="M409.5 411.6L400.6 426"/>
<path d="M409.5 411.6L416.8 434.2"/>
<path d="M409.5 411.6L426.7 436.6"/>
<path d="M409.5 411.6L399.8 437.4"/>
<path d="M441 413.2L426.7 420"/>
<path d="M441 413.2L426.7 436.6"/>
<path d="M441 413.2L466.8 412.4"/>
<path d="M441 413.2L464.4 425.3"/>
<path d="M441 413.2L453 437.4"/>
<path d="M426.7 420L444.6 423"/>
<path d="M426.7 420L416.8 434.2"/>
<path d="M426.7 420L426.7 436.6"/>
<path d="M444.6 423L426.7 436.6"/>
<path d="M444.6 423L466.8 412.4"/>
<path d="M444.6 423L464.4 425.3"/>
<path d="M444.6 423L453 437.4"/>
<path d="M383.7 409.2L393.4 415.6"/>
<path d="M383.7 409.2L386 423"/>
<path d="M393.4 415.6L400.6 426"/>
<path d="M393.4 415.6L390 435.8"/>
<path d="M393.4 415.6L399.8 437.4"/>
<path d="M386 423L400.6 426"/>
<path d="M386 423L390 435.8"/>
<path d="M386 423L399.8 437.4"/>
<path d="M400.6 426L416.8 434.2"/>
<path d="M400.6 426L390 435.8"/>
<path d="M416.8 434.2L390 435.8"/>
<path d="M416.8 434.2L399.8 437.4"/>
<path d="M426.7 436.6L399.8 437.4"/>
<path d="M426.7 436.6L453 437.4"/>
<path d="M464.4 425.3L453 437.4"/>
</g>
<g>
<circle cx="299.4" cy="272.4" r="6.0" fill="#cb412c"/>
<circle cx="311" cy="268" r="6.0" fill="#cb412c"/>
<circle cx="320.3" cy="263.5" r="6.0" fill="#3d80c4"/>
<path d="M320.3 263.5L314.30 263.50A6.0 6.0 0 0 1 326.30 263.50Z" fill="#cb412c"/>
<circle cx="320.3" cy="273.5" r="6.0" fill="#4bab48"/>
<path d="M320.3 273.5L314.30 273.50A6.0 6.0 0 0 1 326.30 273.50Z" fill="#3d80c4"/>
<circle cx="330.8" cy="268.5" r="6.0" fill="#cb412c"/>
<circle cx="341.8" cy="271" r="6.0" fill="#4bab48"/>
<path d="M341.8 271L335.80 271.00A6.0 6.0 0 0 1 347.80 271.00Z" fill="#cb412c"/>
<circle cx="346" cy="280" r="6.0" fill="#4bab48"/>
<path d="M346 280L340.00 280.00A6.0 6.0 0 0 1 352.00 280.00Z" fill="#cb412c"/>
<circle cx="310.6" cy="281.5" r="6.0" fill="#4bab48"/>
<path d="M310.6 281.5L304.60 281.50A6.0 6.0 0 0 1 316.60 281.50Z" fill="#cb412c"/>
<circle cx="322.7" cy="284.8" r="6.0" fill="#cb412c"/>
<circle cx="333.2" cy="285.6" r="6.0" fill="#cb412c"/>
<circle cx="308.2" cy="291.5" r="6.0" fill="#cb412c"/>
<circle cx="297" cy="297.7" r="6.0" fill="#cb412c"/>
<circle cx="321" cy="295.5" r="6.0" fill="#4bab48"/>
<path d="M321 295.5L315.00 295.50A6.0 6.0 0 0 1 327.00 295.50Z" fill="#3d80c4"/>
<circle cx="309.8" cy="302.8" r="6.0" fill="#4bab48"/>
<path d="M309.8 302.8L304.60 299.80A6.0 6.0 0 0 1 315.00 299.80Z" fill="#cb412c"/>
<path d="M309.8 302.8L309.80 308.80A6.0 6.0 0 0 1 304.60 299.80Z" fill="#3d80c4"/>
<circle cx="297" cy="308" r="6.0" fill="#3d80c4"/>
<path d="M297 308L291.00 308.00A6.0 6.0 0 0 1 303.00 308.00Z" fill="#cb412c"/>
<circle cx="330.8" cy="301.5" r="6.0" fill="#3d80c4"/>
<path d="M330.8 301.5L324.80 301.50A6.0 6.0 0 0 1 336.80 301.50Z" fill="#cb412c"/>
<circle cx="340.5" cy="301" r="6.0" fill="#4bab48"/>
<circle cx="350" cy="295" r="6.0" fill="#c9c9c9"/>
<circle cx="360.2" cy="282" r="6.0" fill="#cb412c"/>
<circle cx="373" cy="280" r="6.0" fill="#c9c9c9"/>
<circle cx="386.5" cy="290.6" r="6.0" fill="#c9c9c9"/>
<circle cx="363" cy="293" r="6.0" fill="#3d80c4"/>
<path d="M363 293L357.00 293.00A6.0 6.0 0 0 1 369.00 293.00Z" fill="#cb412c"/>
<circle cx="378" cy="300" r="6.0" fill="#cb412c"/>
<circle cx="361.5" cy="305.2" r="6.0" fill="#3d80c4"/>
<circle cx="348.5" cy="312.4" r="6.0" fill="#c9c9c9"/>
<circle cx="360.3" cy="315.5" r="6.0" fill="#cb412c"/>
<circle cx="330.7" cy="311" r="6.0" fill="#3d80c4"/>
<path d="M330.7 311L324.70 311.00A6.0 6.0 0 0 1 336.70 311.00Z" fill="#cb412c"/>
<circle cx="309.8" cy="314.5" r="6.0" fill="#4bab48"/>
<path d="M309.8 314.5L303.80 314.50A6.0 6.0 0 0 1 315.80 314.50Z" fill="#3d80c4"/>
<circle cx="323" cy="319.7" r="6.0" fill="#3d80c4"/>
<path d="M323 319.7L317.00 319.70A6.0 6.0 0 0 1 329.00 319.70Z" fill="#cb412c"/>
<circle cx="334" cy="321.5" r="6.0" fill="#4bab48"/>
<path d="M334 321.5L328.00 321.50A6.0 6.0 0 0 1 340.00 321.50Z" fill="#cb412c"/>
<circle cx="342.3" cy="322.2" r="6.0" fill="#cb412c"/>
<circle cx="350" cy="328" r="6.0" fill="#cb412c"/>
<circle cx="304.5" cy="325.5" r="6.0" fill="#cb412c"/>
<circle cx="295.8" cy="330.3" r="6.0" fill="#4bab48"/>
<path d="M295.8 330.3L290.60 327.30A6.0 6.0 0 0 1 301.00 327.30Z" fill="#cb412c"/>
<path d="M295.8 330.3L295.80 336.30A6.0 6.0 0 0 1 290.60 327.30Z" fill="#3d80c4"/>
<circle cx="282" cy="329.5" r="6.0" fill="#cb412c"/>
<circle cx="325.5" cy="330.5" r="6.0" fill="#cb412c"/>
<circle cx="336.2" cy="335" r="6.0" fill="#cb412c"/>
<circle cx="345.2" cy="339.5" r="6.0" fill="#3d80c4"/>
<path d="M345.2 339.5L339.20 339.50A6.0 6.0 0 0 1 351.20 339.50Z" fill="#cb412c"/>
<circle cx="359.8" cy="333" r="6.0" fill="#4bab48"/>
<path d="M359.8 333L353.80 333.00A6.0 6.0 0 0 1 365.80 333.00Z" fill="#3d80c4"/>
<circle cx="369" cy="338" r="6.0" fill="#4bab48"/>
<circle cx="308.5" cy="336" r="6.0" fill="#4bab48"/>
<circle cx="301.5" cy="339" r="6.0" fill="#c9c9c9"/>
<circle cx="267.4" cy="331.6" r="6.0" fill="#c9c9c9"/>
<circle cx="261" cy="340.8" r="6.0" fill="#4bab48"/>
<circle cx="253.6" cy="351.5" r="6.0" fill="#4bab48"/>
<path d="M253.6 351.5L247.60 351.50A6.0 6.0 0 0 1 259.60 351.50Z" fill="#cb412c"/>
<circle cx="269.8" cy="351.5" r="6.0" fill="#4bab48"/>
<path d="M269.8 351.5L264.60 348.50A6.0 6.0 0 0 1 275.00 348.50Z" fill="#cb412c"/>
<path d="M269.8 351.5L269.80 357.50A6.0 6.0 0 0 1 264.60 348.50Z" fill="#3d80c4"/>
<circle cx="285.2" cy="349.8" r="6.0" fill="#4bab48"/>
<circle cx="283.2" cy="358.7" r="6.0" fill="#4bab48"/>
<circle cx="260.2" cy="364.4" r="6.0" fill="#4bab48"/>
<circle cx="275.8" cy="365.2" r="6.0" fill="#cb412c"/>
<circle cx="286" cy="368.8" r="6.0" fill="#4bab48"/>
<path d="M286 368.8L280.80 365.80A6.0 6.0 0 0 1 291.20 365.80Z" fill="#cb412c"/>
<path d="M286 368.8L286.00 374.80A6.0 6.0 0 0 1 280.80 365.80Z" fill="#3d80c4"/>
<circle cx="265.8" cy="373.8" r="6.0" fill="#4bab48"/>
<circle cx="277.9" cy="378" r="6.0" fill="#cb412c"/>
<circle cx="244" cy="376.5" r="6.0" fill="#4bab48"/>
<path d="M244 376.5L238.00 376.50A6.0 6.0 0 0 1 250.00 376.50Z" fill="#cb412c"/>
<circle cx="253.4" cy="381" r="6.0" fill="#4bab48"/>
<path d="M253.4 381L247.40 381.00A6.0 6.0 0 0 1 259.40 381.00Z" fill="#cb412c"/>
<circle cx="298" cy="348" r="6.0" fill="#cb412c"/>
<circle cx="304.5" cy="354.8" r="6.0" fill="#4bab48"/>
<path d="M304.5 354.8L298.50 354.80A6.0 6.0 0 0 1 310.50 354.80Z" fill="#cb412c"/>
<circle cx="315.8" cy="346.8" r="6.0" fill="#4bab48"/>
<path d="M315.8 346.8L310.60 343.80A6.0 6.0 0 0 1 321.00 343.80Z" fill="#cb412c"/>
<path d="M315.8 346.8L315.80 352.80A6.0 6.0 0 0 1 310.60 343.80Z" fill="#3d80c4"/>
<circle cx="306" cy="363.5" r="6.0" fill="#cb412c"/>
<circle cx="315.5" cy="358" r="6.0" fill="#3d80c4"/>
<path d="M315.5 358L309.50 358.00A6.0 6.0 0 0 1 321.50 358.00Z" fill="#cb412c"/>
<circle cx="315.6" cy="367.5" r="6.0" fill="#cb412c"/>
<circle cx="301.3" cy="372" r="6.0" fill="#cb412c"/>
<circle cx="309.4" cy="372" r="6.0" fill="#cb412c"/>
<circle cx="317.7" cy="378.4" r="6.0" fill="#3d80c4"/>
<circle cx="309.4" cy="380.3" r="6.0" fill="#cb412c"/>
<circle cx="329" cy="344.5" r="6.0" fill="#4bab48"/>
<path d="M329 344.5L323.80 341.50A6.0 6.0 0 0 1 334.20 341.50Z" fill="#cb412c"/>
<path d="M329 344.5L329.00 350.50A6.0 6.0 0 0 1 323.80 341.50Z" fill="#3d80c4"/>
<circle cx="337.9" cy="351" r="6.0" fill="#4bab48"/>
<path d="M337.9 351L332.70 348.00A6.0 6.0 0 0 1 343.10 348.00Z" fill="#cb412c"/>
<path d="M337.9 351L337.90 357.00A6.0 6.0 0 0 1 332.70 348.00Z" fill="#3d80c4"/>
<circle cx="350" cy="353.4" r="6.0" fill="#3d80c4"/>
<path d="M350 353.4L344.00 353.40A6.0 6.0 0 0 1 356.00 353.40Z" fill="#cb412c"/>
<circle cx="358.9" cy="348.5" r="6.0" fill="#3d80c4"/>
<path d="M358.9 348.5L352.90 348.50A6.0 6.0 0 0 1 364.90 348.50Z" fill="#cb412c"/>
<circle cx="363.9" cy="356" r="6.0" fill="#4bab48"/>
<path d="M363.9 356L357.90 356.00A6.0 6.0 0 0 1 369.90 356.00Z" fill="#cb412c"/>
<circle cx="373.4" cy="360" r="6.0" fill="#4bab48"/>
<path d="M373.4 360L368.20 357.00A6.0 6.0 0 0 1 378.60 357.00Z" fill="#cb412c"/>
<path d="M373.4 360L373.40 366.00A6.0 6.0 0 0 1 368.20 357.00Z" fill="#3d80c4"/>
<circle cx="325.8" cy="360.5" r="6.0" fill="#cb412c"/>
<circle cx="343.5" cy="364" r="6.0" fill="#3d80c4"/>
<path d="M343.5 364L337.50 364.00A6.0 6.0 0 0 1 349.50 364.00Z" fill="#cb412c"/>
<circle cx="325" cy="371" r="6.0" fill="#cb412c"/>
<circle cx="365.3" cy="368.7" r="6.0" fill="#3d80c4"/>
<path d="M365.3 368.7L359.30 368.70A6.0 6.0 0 0 1 371.30 368.70Z" fill="#cb412c"/>
<circle cx="346.8" cy="376" r="6.0" fill="#3d80c4"/>
<path d="M346.8 376L340.80 376.00A6.0 6.0 0 0 1 352.80 376.00Z" fill="#cb412c"/>
<circle cx="354.8" cy="374.4" r="6.0" fill="#4bab48"/>
<path d="M354.8 374.4L348.80 374.40A6.0 6.0 0 0 1 360.80 374.40Z" fill="#cb412c"/>
<circle cx="374.5" cy="376.5" r="6.0" fill="#4bab48"/>
<path d="M374.5 376.5L368.50 376.50A6.0 6.0 0 0 1 380.50 376.50Z" fill="#cb412c"/>
<circle cx="333.9" cy="380" r="6.0" fill="#3d80c4"/>
<path d="M333.9 380L327.90 380.00A6.0 6.0 0 0 1 339.90 380.00Z" fill="#cb412c"/>
<circle cx="324.2" cy="385.6" r="6.0" fill="#4bab48"/>
<path d="M324.2 385.6L318.20 385.60A6.0 6.0 0 0 1 330.20 385.60Z" fill="#cb412c"/>
<circle cx="312" cy="393.9" r="6.0" fill="#4bab48"/>
<path d="M312 393.9L306.80 390.90A6.0 6.0 0 0 1 317.20 390.90Z" fill="#cb412c"/>
<path d="M312 393.9L312.00 399.90A6.0 6.0 0 0 1 306.80 390.90Z" fill="#3d80c4"/>
<circle cx="298.5" cy="392.5" r="6.0" fill="#4bab48"/>
<path d="M298.5 392.5L293.30 389.50A6.0 6.0 0 0 1 303.70 389.50Z" fill="#cb412c"/>
<path d="M298.5 392.5L298.50 398.50A6.0 6.0 0 0 1 293.30 389.50Z" fill="#3d80c4"/>
<circle cx="339.5" cy="393" r="6.0" fill="#cb412c"/>
<circle cx="348.4" cy="392" r="6.0" fill="#3d80c4"/>
<path d="M348.4 392L342.40 392.00A6.0 6.0 0 0 1 354.40 392.00Z" fill="#cb412c"/>
<circle cx="357.3" cy="398.5" r="6.0" fill="#3d80c4"/>
<path d="M357.3 398.5L351.30 398.50A6.0 6.0 0 0 1 363.30 398.50Z" fill="#cb412c"/>
<circle cx="371" cy="393.7" r="6.0" fill="#cb412c"/>
<circle cx="321.8" cy="399.4" r="6.0" fill="#4bab48"/>
<path d="M321.8 399.4L316.60 396.40A6.0 6.0 0 0 1 327.00 396.40Z" fill="#cb412c"/>
<path d="M321.8 399.4L321.80 405.40A6.0 6.0 0 0 1 316.60 396.40Z" fill="#3d80c4"/>
<circle cx="340.3" cy="403" r="6.0" fill="#cb412c"/>
<circle cx="304.6" cy="406" r="6.0" fill="#3d80c4"/>
<path d="M304.6 406L298.60 406.00A6.0 6.0 0 0 1 310.60 406.00Z" fill="#cb412c"/>
<circle cx="329.4" cy="408.5" r="6.0" fill="#4bab48"/>
<path d="M329.4 408.5L324.20 405.50A6.0 6.0 0 0 1 334.60 405.50Z" fill="#cb412c"/>
<path d="M329.4 408.5L329.40 414.50A6.0 6.0 0 0 1 324.20 405.50Z" fill="#3d80c4"/>
<circle cx="321" cy="407.7" r="6.0" fill="#cb412c"/>
<circle cx="357.3" cy="407.4" r="6.0" fill="#cb412c"/>
<circle cx="343" cy="411.4" r="6.0" fill="#cb412c"/>
<circle cx="356.5" cy="412.6" r="6.0" fill="#4bab48"/>
<path d="M356.5 412.6L350.50 412.60A6.0 6.0 0 0 1 362.50 412.60Z" fill="#3d80c4"/>
<circle cx="371.8" cy="411.8" r="6.0" fill="#cb412c"/>
<circle cx="203.4" cy="337.7" r="6.0" fill="#cb412c"/>
<circle cx="220" cy="336.1" r="6.0" fill="#cb412c"/>
<circle cx="192.1" cy="345.5" r="6.0" fill="#4bab48"/>
<path d="M192.1 345.5L186.10 345.50A6.0 6.0 0 0 1 198.10 345.50Z" fill="#cb412c"/>
<circle cx="232.9" cy="346.6" r="6.0" fill="#3d80c4"/>
<path d="M232.9 346.6L226.90 346.60A6.0 6.0 0 0 1 238.90 346.60Z" fill="#cb412c"/>
<circle cx="197.3" cy="356.3" r="6.0" fill="#3d80c4"/>
<path d="M197.3 356.3L191.30 356.30A6.0 6.0 0 0 1 203.30 356.30Z" fill="#cb412c"/>
<circle cx="213.4" cy="358.4" r="6.0" fill="#4bab48"/>
<path d="M213.4 358.4L207.40 358.40A6.0 6.0 0 0 1 219.40 358.40Z" fill="#cb412c"/>
<circle cx="208.2" cy="372.5" r="6.0" fill="#4bab48"/>
<path d="M208.2 372.5L202.20 372.50A6.0 6.0 0 0 1 214.20 372.50Z" fill="#cb412c"/>
<circle cx="233.8" cy="370" r="6.0" fill="#cb412c"/>
<circle cx="222" cy="375.8" r="6.0" fill="#3d80c4"/>
<path d="M222 375.8L216.00 375.80A6.0 6.0 0 0 1 228.00 375.80Z" fill="#cb412c"/>
<circle cx="243.7" cy="376.3" r="6.0" fill="#4bab48"/>
<path d="M243.7 376.3L237.70 376.30A6.0 6.0 0 0 1 249.70 376.30Z" fill="#cb412c"/>
<circle cx="234.8" cy="384.2" r="6.0" fill="#c9c9c9"/>
<circle cx="223.2" cy="387.7" r="6.0" fill="#4bab48"/>
<path d="M223.2 387.7L217.20 387.70A6.0 6.0 0 0 1 229.20 387.70Z" fill="#cb412c"/>
<circle cx="252" cy="392.7" r="6.0" fill="#cb412c"/>
<circle cx="253" cy="403.7" r="6.0" fill="#cb412c"/>
<circle cx="265" cy="401" r="6.0" fill="#cb412c"/>
<circle cx="265.8" cy="414.5" r="6.0" fill="#c9c9c9"/>
<circle cx="284.4" cy="412.8" r="6.0" fill="#4bab48"/>
<path d="M284.4 412.8L279.20 409.80A6.0 6.0 0 0 1 289.60 409.80Z" fill="#cb412c"/>
<path d="M284.4 412.8L284.40 418.80A6.0 6.0 0 0 1 279.20 409.80Z" fill="#3d80c4"/>
<circle cx="292.4" cy="401.5" r="6.0" fill="#4bab48"/>
<path d="M292.4 401.5L287.20 398.50A6.0 6.0 0 0 1 297.60 398.50Z" fill="#cb412c"/>
<path d="M292.4 401.5L292.40 407.50A6.0 6.0 0 0 1 287.20 398.50Z" fill="#3d80c4"/>
<circle cx="295.6" cy="412" r="6.0" fill="#4bab48"/>
<path d="M295.6 412L290.40 409.00A6.0 6.0 0 0 1 300.80 409.00Z" fill="#cb412c"/>
<path d="M295.6 412L295.60 418.00A6.0 6.0 0 0 1 290.40 409.00Z" fill="#3d80c4"/>
<circle cx="282.7" cy="387.7" r="6.0" fill="#4bab48"/>
<path d="M282.7 387.7L276.70 387.70A6.0 6.0 0 0 1 288.70 387.70Z" fill="#cb412c"/>
<circle cx="297.3" cy="420" r="6.0" fill="#3d80c4"/>
<path d="M297.3 420L291.30 420.00A6.0 6.0 0 0 1 303.30 420.00Z" fill="#cb412c"/>
<circle cx="313.4" cy="416.9" r="6.0" fill="#3d80c4"/>
<path d="M313.4 416.9L307.40 416.90A6.0 6.0 0 0 1 319.40 416.90Z" fill="#cb412c"/>
<circle cx="260.2" cy="427.8" r="6.0" fill="#4bab48"/>
<path d="M260.2 427.8L254.20 427.80A6.0 6.0 0 0 1 266.20 427.80Z" fill="#cb412c"/>
<circle cx="288.4" cy="430" r="6.0" fill="#4bab48"/>
<path d="M288.4 430L283.20 427.00A6.0 6.0 0 0 1 293.60 427.00Z" fill="#cb412c"/>
<path d="M288.4 430L288.40 436.00A6.0 6.0 0 0 1 283.20 427.00Z" fill="#3d80c4"/>
<circle cx="317.7" cy="425.5" r="6.0" fill="#4bab48"/>
<path d="M317.7 425.5L311.70 425.50A6.0 6.0 0 0 1 323.70 425.50Z" fill="#cb412c"/>
<circle cx="273" cy="438.7" r="6.0" fill="#4bab48"/>
<circle cx="307.2" cy="432.3" r="6.0" fill="#3d80c4"/>
<circle cx="300.5" cy="442" r="6.0" fill="#cb412c"/>
<circle cx="316.5" cy="441" r="6.0" fill="#3d80c4"/>
<circle cx="327.4" cy="421" r="6.0" fill="#3d80c4"/>
<path d="M327.4 421L321.40 421.00A6.0 6.0 0 0 1 333.40 421.00Z" fill="#cb412c"/>
<circle cx="339.5" cy="421" r="6.0" fill="#3d80c4"/>
<path d="M339.5 421L333.50 421.00A6.0 6.0 0 0 1 345.50 421.00Z" fill="#cb412c"/>
<circle cx="352.4" cy="424.2" r="6.0" fill="#4bab48"/>
<path d="M352.4 424.2L347.20 421.20A6.0 6.0 0 0 1 357.60 421.20Z" fill="#cb412c"/>
<path d="M352.4 424.2L352.40 430.20A6.0 6.0 0 0 1 347.20 421.20Z" fill="#3d80c4"/>
<circle cx="361.3" cy="421" r="6.0" fill="#3d80c4"/>
<path d="M361.3 421L355.30 421.00A6.0 6.0 0 0 1 367.30 421.00Z" fill="#cb412c"/>
<circle cx="339.5" cy="426.6" r="6.0" fill="#cb412c"/>
<circle cx="346.8" cy="430.6" r="6.0" fill="#4bab48"/>
<path d="M346.8 430.6L341.60 427.60A6.0 6.0 0 0 1 352.00 427.60Z" fill="#cb412c"/>
<path d="M346.8 430.6L346.80 436.60A6.0 6.0 0 0 1 341.60 427.60Z" fill="#3d80c4"/>
<circle cx="369.4" cy="429.8" r="6.0" fill="#cb412c"/>
<circle cx="333.9" cy="433.9" r="6.0" fill="#cb412c"/>
<circle cx="325" cy="436.3" r="6.0" fill="#4bab48"/>
<path d="M325 436.3L319.80 433.30A6.0 6.0 0 0 1 330.20 433.30Z" fill="#cb412c"/>
<path d="M325 436.3L325.00 442.30A6.0 6.0 0 0 1 319.80 433.30Z" fill="#3d80c4"/>
<circle cx="359.7" cy="435.5" r="6.0" fill="#3d80c4"/>
<path d="M359.7 435.5L353.70 435.50A6.0 6.0 0 0 1 365.70 435.50Z" fill="#cb412c"/>
<circle cx="331.5" cy="445" r="6.0" fill="#4bab48"/>
<path d="M331.5 445L326.30 442.00A6.0 6.0 0 0 1 336.70 442.00Z" fill="#cb412c"/>
<path d="M331.5 445L331.50 451.00A6.0 6.0 0 0 1 326.30 442.00Z" fill="#3d80c4"/>
<circle cx="341" cy="443.5" r="6.0" fill="#3d80c4"/>
<path d="M341 443.5L335.00 443.50A6.0 6.0 0 0 1 347.00 443.50Z" fill="#cb412c"/>
<circle cx="351.6" cy="444.4" r="6.0" fill="#3d80c4"/>
<path d="M351.6 444.4L345.60 444.40A6.0 6.0 0 0 1 357.60 444.40Z" fill="#cb412c"/>
<circle cx="366" cy="443.5" r="6.0" fill="#3d80c4"/>
<path d="M366 443.5L360.00 443.50A6.0 6.0 0 0 1 372.00 443.50Z" fill="#cb412c"/>
<circle cx="378.4" cy="440" r="6.0" fill="#cb412c"/>
<circle cx="388.5" cy="356.6" r="6.0" fill="#3d80c4"/>
<path d="M388.5 356.6L382.50 356.60A6.0 6.0 0 0 1 394.50 356.60Z" fill="#cb412c"/>
<circle cx="410.3" cy="358.2" r="6.0" fill="#cb412c"/>
<circle cx="420.5" cy="360.4" r="6.0" fill="#cb412c"/>
<circle cx="426.5" cy="368.8" r="6.0" fill="#cb412c"/>
<circle cx="437.7" cy="374.2" r="6.0" fill="#4bab48"/>
<path d="M437.7 374.2L432.50 371.20A6.0 6.0 0 0 1 442.90 371.20Z" fill="#cb412c"/>
<path d="M437.7 374.2L437.70 380.20A6.0 6.0 0 0 1 432.50 371.20Z" fill="#3d80c4"/>
<circle cx="427.3" cy="378" r="6.0" fill="#4bab48"/>
<path d="M427.3 378L421.30 378.00A6.0 6.0 0 0 1 433.30 378.00Z" fill="#cb412c"/>
<circle cx="401.8" cy="381.6" r="6.0" fill="#4bab48"/>
<path d="M401.8 381.6L396.60 378.60A6.0 6.0 0 0 1 407.00 378.60Z" fill="#cb412c"/>
<path d="M401.8 381.6L401.80 387.60A6.0 6.0 0 0 1 396.60 378.60Z" fill="#3d80c4"/>
<circle cx="423.5" cy="387.3" r="6.0" fill="#4bab48"/>
<path d="M423.5 387.3L417.50 387.30A6.0 6.0 0 0 1 429.50 387.30Z" fill="#3d80c4"/>
<circle cx="434" cy="387.3" r="6.0" fill="#cb412c"/>
<circle cx="437" cy="395.8" r="6.0" fill="#cb412c"/>
<circle cx="460.4" cy="394" r="6.0" fill="#3d80c4"/>
<path d="M460.4 394L454.40 394.00A6.0 6.0 0 0 1 466.40 394.00Z" fill="#cb412c"/>
<circle cx="470.8" cy="391.5" r="6.0" fill="#4bab48"/>
<path d="M470.8 391.5L464.80 391.50A6.0 6.0 0 0 1 476.80 391.50Z" fill="#3d80c4"/>
<circle cx="428" cy="401.5" r="6.0" fill="#4bab48"/>
<path d="M428 401.5L422.80 398.50A6.0 6.0 0 0 1 433.20 398.50Z" fill="#cb412c"/>
<path d="M428 401.5L428.00 407.50A6.0 6.0 0 0 1 422.80 398.50Z" fill="#3d80c4"/>
<circle cx="450.7" cy="403.8" r="6.0" fill="#4bab48"/>
<path d="M450.7 403.8L444.70 403.80A6.0 6.0 0 0 1 456.70 403.80Z" fill="#cb412c"/>
<circle cx="380.5" cy="393.9" r="6.0" fill="#cb412c"/>
<circle cx="394.2" cy="397.9" r="6.0" fill="#cb412c"/>
<circle cx="401.5" cy="404.4" r="6.0" fill="#cb412c"/>
<circle cx="409.5" cy="411.6" r="6.0" fill="#3d80c4"/>
<path d="M409.5 411.6L403.50 411.60A6.0 6.0 0 0 1 415.50 411.60Z" fill="#cb412c"/>
<circle cx="441" cy="413.2" r="6.0" fill="#cb412c"/>
<circle cx="426.7" cy="420" r="6.0" fill="#cb412c"/>
<circle cx="444.6" cy="423" r="6.0" fill="#4bab48"/>
<path d="M444.6 423L439.40 420.00A6.0 6.0 0 0 1 449.80 420.00Z" fill="#cb412c"/>
<path d="M444.6 423L444.60 429.00A6.0 6.0 0 0 1 439.40 420.00Z" fill="#3d80c4"/>
<circle cx="383.7" cy="409.2" r="6.0" fill="#4bab48"/>
<path d="M383.7 409.2L377.70 409.20A6.0 6.0 0 0 1 389.70 409.20Z" fill="#cb412c"/>
<circle cx="393.4" cy="415.6" r="6.0" fill="#cb412c"/>
<circle cx="386" cy="423" r="6.0" fill="#cb412c"/>
<circle cx="400.6" cy="426" r="6.0" fill="#4bab48"/>
<path d="M400.6 426L395.40 423.00A6.0 6.0 0 0 1 405.80 423.00Z" fill="#cb412c"/>
<path d="M400.6 426L400.60 432.00A6.0 6.0 0 0 1 395.40 423.00Z" fill="#3d80c4"/>
<circle cx="416.8" cy="434.2" r="6.0" fill="#4bab48"/>
<path d="M416.8 434.2L411.60 431.20A6.0 6.0 0 0 1 422.00 431.20Z" fill="#cb412c"/>
<path d="M416.8 434.2L416.80 440.20A6.0 6.0 0 0 1 411.60 431.20Z" fill="#3d80c4"/>
<circle cx="426.7" cy="436.6" r="6.0" fill="#3d80c4"/>
<circle cx="390" cy="435.8" r="6.0" fill="#cb412c"/>
<circle cx="399.8" cy="437.4" r="6.0" fill="#3d80c4"/>
<path d="M399.8 437.4L393.80 437.40A6.0 6.0 0 0 1 405.80 437.40Z" fill="#cb412c"/>
<circle cx="466.8" cy="412.4" r="6.0" fill="#4bab48"/>
<path d="M466.8 412.4L461.60 409.40A6.0 6.0 0 0 1 472.00 409.40Z" fill="#cb412c"/>
<path d="M466.8 412.4L466.80 418.40A6.0 6.0 0 0 1 461.60 409.40Z" fill="#3d80c4"/>
<circle cx="464.4" cy="425.3" r="6.0" fill="#4bab48"/>
<path d="M464.4 425.3L458.40 425.30A6.0 6.0 0 0 1 470.40 425.30Z" fill="#cb412c"/>
<circle cx="453" cy="437.4" r="6.0" fill="#3d80c4"/>
<path d="M453 437.4L447.00 437.40A6.0 6.0 0 0 1 459.00 437.40Z" fill="#cb412c"/>
</g>
<g class="nl" font-size="3.3" text-anchor="middle" font-weight="normal">
<text x="299.4" y="273.5">CDR4</text>
<text x="311" y="269.1">SLL1</text>
<text x="320.3" y="264.6">HSPA8</text>
<text x="320.3" y="274.6">CDH</text>
<text x="330.8" y="269.6">CHPT</text>
<text x="341.8" y="272.1">HSPA5</text>
<text x="346" y="281.1">CDC42</text>
<text x="310.6" y="282.6">C6PT</text>
<text x="322.7" y="285.9">G6PD</text>
<text x="333.2" y="286.7">RAC1</text>
<text x="308.2" y="292.6">DNAJB1</text>
<text x="297" y="298.8">BICD2</text>
<text x="321" y="296.6">RHOA</text>
<text x="309.8" y="303.9">ACTG1</text>
<text x="297" y="309.1">MYH9</text>
<text x="330.8" y="302.6">VIM</text>
<text x="340.5" y="302.1">FLNA</text>
<text x="350" y="296.1">CWC25</text>
<text x="360.2" y="283.1">CXCT</text>
<text x="373" y="281.1">EIF4A2</text>
<text x="386.5" y="291.7">EIF4G3</text>
<text x="363" y="294.1">TLN1</text>
<text x="378" y="301.1">EXOC4</text>
<text x="361.5" y="306.3">CTNNB1</text>
<text x="348.5" y="313.5">HSPA11</text>
<text x="360.3" y="316.6">DNAJB4</text>
<text x="330.7" y="312.1">ICAM</text>
<text x="309.8" y="315.6">ITGB1</text>
<text x="323" y="320.8">HSPA</text>
<text x="334" y="322.6">ITGAV</text>
<text x="342.3" y="323.3">CD44</text>
<text x="350" y="329.1">HSPH1</text>
<text x="304.5" y="326.6">FOA3</text>
<text x="295.8" y="331.4">FN1</text>
<text x="282" y="330.6">RAB8</text>
<text x="325.5" y="331.6">DNAJA2</text>
<text x="336.2" y="336.1">DNAJA1</text>
<text x="345.2" y="340.6">COL1A1</text>
<text x="359.8" y="334.1">SPARC</text>
<text x="369" y="339.1">ARFRP1</text>
<text x="308.5" y="337.1">LGALS1</text>
<text x="301.5" y="340.1">DLSTM</text>
<text x="267.4" y="332.7">ARFGAP</text>
<text x="261" y="341.9">RAB6B</text>
<text x="253.6" y="352.6">ANXA1</text>
<text x="269.8" y="352.6">ANXA2</text>
<text x="285.2" y="350.9">NSF</text>
<text x="283.2" y="359.8">SEC22B</text>
<text x="260.2" y="365.5">DARS</text>
<text x="275.8" y="366.3">EMP</text>
<text x="286" y="369.9">S100A4</text>
<text x="265.8" y="374.9">TGFB1</text>
<text x="277.9" y="379.1">LAMB</text>
<text x="244" y="377.6">SMAD3</text>
<text x="253.4" y="382.1">JUN</text>
<text x="298" y="349.1">CAPZA</text>
<text x="304.5" y="355.9">FOS</text>
<text x="315.8" y="347.9">ITGA</text>
<text x="306" y="364.6">CLR1</text>
<text x="315.5" y="359.1">EGR1</text>
<text x="315.6" y="368.6">LCA</text>
<text x="301.3" y="373.1">PLAU</text>
<text x="309.4" y="373.1">ATF3</text>
<text x="317.7" y="379.5">KLF4</text>
<text x="309.4" y="381.4">PLAUR</text>
<text x="329" y="345.6">KLF6</text>
<text x="337.9" y="352.1">NFKB1</text>
<text x="350" y="354.5">RELA</text>
<text x="358.9" y="349.6">IKBKB</text>
<text x="363.9" y="357.1">MIC</text>
<text x="373.4" y="361.1">TNFAIP3</text>
<text x="325.8" y="361.6">ACTB</text>
<text x="343.5" y="365.1">CXCL8</text>
<text x="325" y="372.1">TAGLN</text>
<text x="365.3" y="369.8">CCL2</text>
<text x="346.8" y="377.1">IL1B</text>
<text x="354.8" y="375.5">IL6R</text>
<text x="374.5" y="377.6">STAT3</text>
<text x="333.9" y="381.1">SOCS3</text>
<text x="324.2" y="386.7">CDK</text>
<text x="312" y="395.0">JAK1</text>
<text x="298.5" y="393.6">PTPN1</text>
<text x="339.5" y="394.1">MAPK1</text>
<text x="348.4" y="393.1">MAPK3</text>
<text x="357.3" y="399.6">RAF1</text>
<text x="371" y="394.8">TUBA</text>
<text x="321.8" y="400.5">KRAS</text>
<text x="340.3" y="404.1">NFATB</text>
<text x="304.6" y="407.1">GRB2</text>
<text x="329.4" y="409.6">SOS1</text>
<text x="321" y="408.8">EGFR</text>
<text x="357.3" y="408.5">MET</text>
<text x="343" y="412.5">LRL8</text>
<text x="356.5" y="413.7">VEGFA</text>
<text x="371.8" y="412.9">ARPC1</text>
<text x="203.4" y="338.8">PKD47</text>
<text x="220" y="337.2">FAM13A</text>
<text x="192.1" y="346.6">HIF1A</text>
<text x="232.9" y="347.7">EPAS1</text>
<text x="197.3" y="357.4">CTSB</text>
<text x="213.4" y="359.5">CTSD</text>
<text x="208.2" y="373.6">ARHGAP1</text>
<text x="233.8" y="371.1">PPP1CB</text>
<text x="222" y="376.9">LAMP1</text>
<text x="243.7" y="377.4">RAB7A</text>
<text x="234.8" y="385.3">PPP4R1</text>
<text x="223.2" y="388.8">RAB5A</text>
<text x="252" y="393.8">F3</text>
<text x="253" y="404.8">THBD</text>
<text x="265" y="402.1">APLP</text>
<text x="265.8" y="415.6">NSA2A</text>
<text x="284.4" y="413.9">TIMP</text>
<text x="292.4" y="402.6">VAMP3</text>
<text x="295.6" y="413.1">STX4</text>
<text x="282.7" y="388.8">SERPINE</text>
<text x="297.3" y="421.1">FBN1</text>
<text x="313.4" y="418.0">SNAP23</text>
<text x="260.2" y="428.9">MMP1</text>
<text x="288.4" y="431.1">ARF1</text>
<text x="317.7" y="426.6">ARF6</text>
<text x="273" y="439.8">MMP3</text>
<text x="307.2" y="433.4">XYN</text>
<text x="300.5" y="443.1">PTGES</text>
<text x="316.5" y="442.1">FOSL</text>
<text x="327.4" y="422.1">COPA</text>
<text x="339.5" y="422.1">SEC61A</text>
<text x="352.4" y="425.3">CANX</text>
<text x="361.3" y="422.1">CALR</text>
<text x="339.5" y="427.7">PDIA3</text>
<text x="346.8" y="431.7">P4HB</text>
<text x="369.4" y="430.9">EXPH</text>
<text x="333.9" y="435.0">USP</text>
<text x="325" y="437.4">HSP90B1</text>
<text x="359.7" y="436.6">HSP90AA1</text>
<text x="331.5" y="446.1">STIP1</text>
<text x="341" y="444.6">BAG3</text>
<text x="351.6" y="445.5">DNAJC3</text>
<text x="366" y="444.6">UBC</text>
<text x="378.4" y="441.1">UBB</text>
<text x="388.5" y="357.7">PSMA1</text>
<text x="410.3" y="359.3">LCP1</text>
<text x="420.5" y="361.5">ALAS</text>
<text x="426.5" y="369.9">CCRC4</text>
<text x="437.7" y="375.3">PSMD2</text>
<text x="427.3" y="379.1">VCP</text>
<text x="401.8" y="382.7">SQSTM1</text>
<text x="423.5" y="388.4">GABARAP</text>
<text x="434" y="388.4">TUBB</text>
<text x="437" y="396.9">TUBA1B</text>
<text x="460.4" y="395.1">KIF5B</text>
<text x="470.8" y="392.6">DYNC1H1</text>
<text x="428" y="402.6">ACTR2</text>
<text x="450.7" y="404.9">ARPC2</text>
<text x="380.5" y="395.0">CFL1</text>
<text x="394.2" y="399.0">CASP8</text>
<text x="401.5" y="405.5">IRAK2</text>
<text x="409.5" y="412.7">TRAF</text>
<text x="441" y="414.3">MAP3K</text>
<text x="426.7" y="421.1">RIPK2</text>
<text x="444.6" y="424.1">PFN1</text>
<text x="383.7" y="410.3">WASF2</text>
<text x="393.4" y="416.7">IL1R1</text>
<text x="386" y="424.1">TBK1</text>
<text x="400.6" y="427.1">IL1RAP</text>
<text x="416.8" y="435.3">CTTN</text>
<text x="426.7" y="437.7">BID</text>
<text x="390" y="436.9">EZR</text>
<text x="399.8" y="438.5">MSN</text>
<text x="466.8" y="413.5">CAV1</text>
<text x="464.4" y="426.4">LMNA</text>
<text x="453" y="438.5">SUN2</text>
</g>
</svg>
</body></html>
